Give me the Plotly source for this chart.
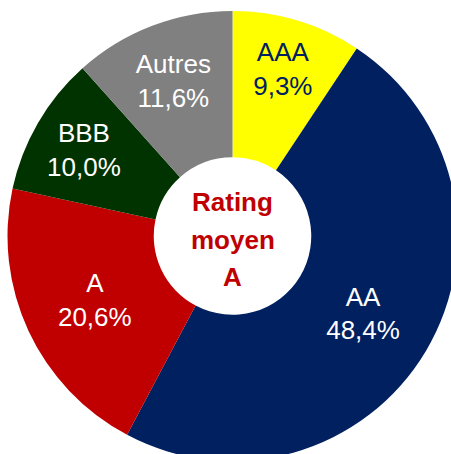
import plotly.graph_objects as go

labels = ["AAA", "AA", "A", "BBB", "Autres"]
values = [9.3, 48.4, 20.6, 10.0, 11.6]
colors = ["#FFFF00", "#002060", "#C00000", "#003300", "#808080"]
text_colors = ["#002060", "#FFFFFF", "#FFFFFF", "#FFFFFF", "#FFFFFF"]
center_lines = ["Rating", "moyen", "A"]
center_shifts = [34, -4, -41]

W, H = 465, 472
FONT = "Liberation Sans, Arial"
fig = go.Figure(go.Pie(
    labels=labels,
    values=values,
    sort=False,
    direction="clockwise",
    rotation=0,
    hole=0.35,
    marker=dict(colors=colors, line=dict(width=0)),
    texttemplate="%{label}<br>%{value:.1f}%",
    textposition="inside",
    insidetextorientation="horizontal",
    insidetextfont=dict(color=text_colors, size=26, family=FONT),
    showlegend=False,
    hoverinfo="skip",
    domain=dict(x=[7.5 / W, 457.5 / W], y=[(H - 461) / H, (H - 11) / H]),
))
for line, shift in zip(center_lines, center_shifts):
    fig.add_annotation(
        text="<b>" + line + "</b>", x=0.5, y=0.5, xref="paper", yref="paper",
        yshift=shift, showarrow=False,
        font=dict(color="#C00000", size=26, family=FONT),
    )
fig.update_layout(
    width=W, height=H, margin=dict(l=0, r=0, t=0, b=0),
    paper_bgcolor="white", plot_bgcolor="white", separators=", ",
)
fig.write_html(
    "out.html",
    config={"displayModeBar": False},
    post_script="document.body.style.margin='0';document.body.style.overflow='hidden';",
)
